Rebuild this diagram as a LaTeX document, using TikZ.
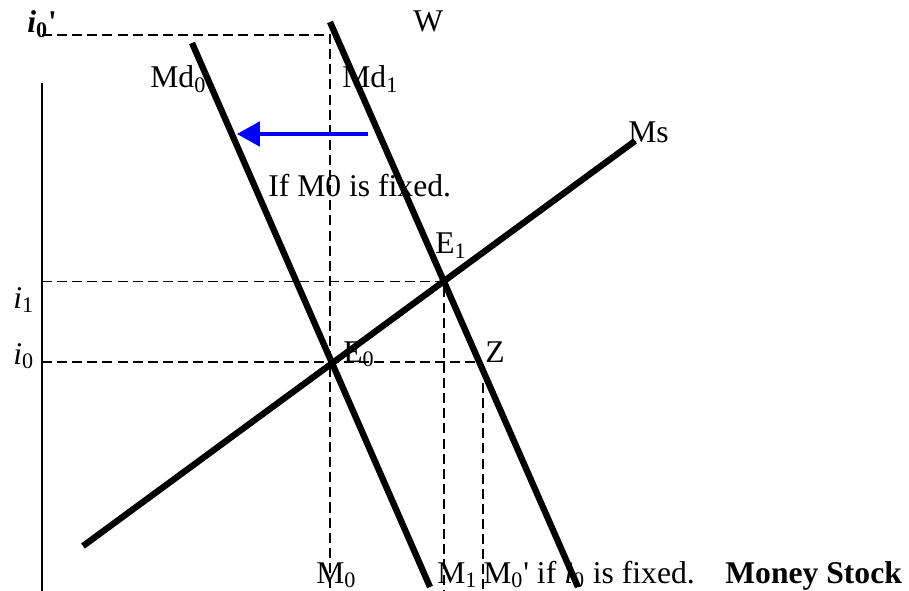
\documentclass[tikz,border=0pt]{standalone}
\usepackage{fontspec}
\setmainfont{Liberation Serif}[Ligatures=TeXOff]
\usetikzlibrary{arrows.meta,intersections}
\tikzset{
  curve/.style={line width=3.6pt},
  guide/.style={line width=0.85pt, dash pattern=on 5.7pt off 2.9pt},
  lbl/.style={inner sep=0pt, anchor=base west},
}
\begin{document}
\begin{tikzpicture}[x=0.02cm,y=-0.02cm,font=\fontsize{18}{21}\selectfont]
    \useasboundingbox (0,0) rectangle (909,591);
    % end points
    \coordinate (axistop) at (42,83);
    \coordinate (axisbot) at (42,591);
    \coordinate (md0top) at (192,43);
    \coordinate (md0bot) at (430,587);
    \coordinate (md1top) at (330,22);
    \coordinate (md1bot) at (578,587);
    \coordinate (msbot) at (83,546);
    \coordinate (mstop) at (635,141);
    \path[name path=md0] (md0top) -- (md0bot);
    \path[name path=md1] (md1top) -- (md1bot);
    \path[name path=ms] (msbot) -- (mstop);
    \path[name intersections={of=md0 and ms, by=E0}];
    \path[name intersections={of=md1 and ms, by=E1}];
    \coordinate (i0top) at (42,35);
    \coordinate (wtop) at (330,35);
    \path[name path=zline] (42,362) -- (600,362);
    \path[name intersections={of=md1 and zline, by=Z}];
    \coordinate (ztop) at (483,383);
    % guide lines
    \draw[line width=0.75pt] (axistop) -- (axisbot);
    \draw[guide] (i0top) -- (wtop) -- (wtop |- axisbot);
    \draw[guide] (E1 -| axistop) -- (E1) -- (E1 |- axisbot);
    \draw[guide] (Z -| axistop) -- (Z);
    \draw[guide] (ztop) -- (ztop |- axisbot);
    % labels
    \node[lbl] (i0plbl) at (27,33) {\textbf{\textit{i}\textsubscript{0}'}};
    \node[lbl] (wlbl) at (413,32) {W};
    \node[lbl] (md0lbl) at (150,88) {Md\textsubscript{0}};
    \node[lbl] (md1lbl) at (342,88) {Md\textsubscript{1}};
    \node[lbl] (mslbl) at (628,143) {Ms};
    \node[lbl] (fixlbl) at (268,196) {If M0 is fixed.};
    \node[lbl] (e1lbl) at (435,254) {E\textsubscript{1}};
    \node[lbl] (e0lbl) at (343,362) {E\textsubscript{0}};
    \node[lbl] (zlbl) at (485,362) {Z};
    \node[lbl] (i1lbl) at (13,308) {\textit{i}\textsubscript{1}};
    \node[lbl] (i0lbl) at (13,364) {\textit{i}\textsubscript{0}};
    \node[lbl] (m0lbl) at (316,583) {M\textsubscript{0}};
    \node[lbl] (m1lbl) at (437,583) {M\textsubscript{1}};
    \node[lbl] (m0plbl) at (483,583) {M\textsubscript{0}' if \textit{i}\textsubscript{0} is fixed.};
    \node[lbl] (stocklbl) at (725,583) {\textbf{Money Stock}};
    % curves
    \draw[curve] (md0top) -- (md0bot);
    \draw[curve] (md1top) -- (md1bot);
    \draw[curve] (msbot) -- (mstop);
    % shift of demand
    \coordinate (shiftfrom) at (368,134);
    \coordinate (shiftto) at (237,134);
    \draw[blue, line width=1.8pt, -{Triangle[length=13pt,width=14pt]}] (shiftfrom) -- (shiftto);
\end{tikzpicture}
\end{document}
